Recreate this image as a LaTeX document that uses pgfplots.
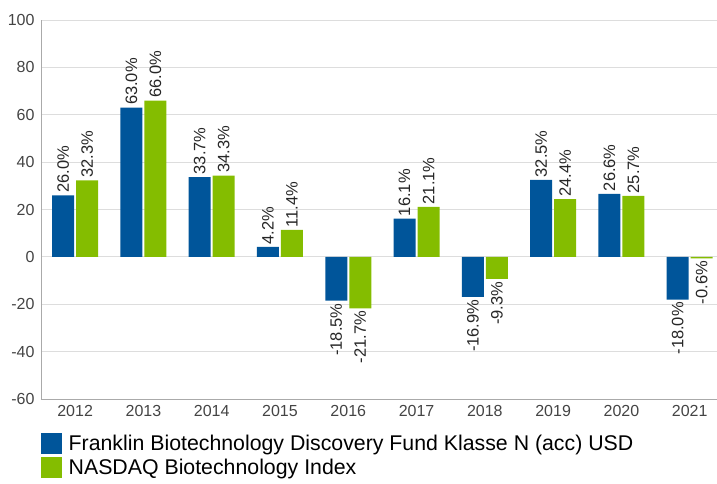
\documentclass[border=0pt]{standalone}
\usepackage{fontspec}
\setmainfont{Liberation Sans}
\usepackage{pgfplots}
\pgfplotsset{compat=1.18}
\definecolor{fundblue}{HTML}{00559A}
\definecolor{idxgreen}{HTML}{84BD00}
\definecolor{gridgray}{HTML}{DDDDDD}
\definecolor{axisgray}{HTML}{AAAAAA}
\definecolor{ticktext}{HTML}{444444}
\begin{document}
\begin{tikzpicture}
\begin{axis}[
  at={(0,0)}, anchor=south west,
  scale only axis, width=676pt, height=379pt,
  xmin=-0.5, xmax=9.4, ymin=-60, ymax=100,
  ytick={-60,-40,...,100},
  xtick={0,...,9},
  xticklabels={2012,2013,2014,2015,2016,2017,2018,2019,2020,2021},
  axis x line*=bottom, axis y line*=left,
  axis line style={axisgray, line width=0.8pt},
  ymajorgrids, grid style={gridgray, line width=0.8pt},
  major tick length=0pt,
  tick label style={font=\fontsize{16}{19}\selectfont, text=ticktext},
  yticklabel style={xshift=-3pt},
  xticklabel style={yshift=-3pt},
  /pgf/number format/assume math mode=true,
  ybar=2pt, bar width=22pt,
  visualization depends on={y \as \rawy},
  nodes near coords={\pgfmathprintnumber[fixed,fixed zerofill,precision=1,assume math mode=true]{\pgfplotspointmeta}\%},
  every node near coord/.append style={font=\fontsize{16.5}{19}\selectfont, text=black!85, rotate=90, inner sep=2.5pt},
  every node near coord/.append code={\ifdim\rawy pt<0pt \pgfkeysalso{anchor=east}\else\pgfkeysalso{anchor=west}\fi},
  legend style={at={(0,0)}, anchor=north west, yshift=-34pt, xshift=0pt, draw=none, fill=none,
    font=\fontsize{21.3}{25}\selectfont, inner sep=0pt, row sep=2.5pt,
    nodes={inner ysep=0.5pt, inner xsep=6.5pt}},
  legend cell align=left,
]
\addplot[fill=fundblue, draw=none,
  legend image code/.code={\fill[fundblue] (0pt,-10.5pt) rectangle (21pt,10.5pt);}]
  coordinates {(0,26.0) (1,63.0) (2,33.7) (3,4.2) (4,-18.5) (5,16.1) (6,-16.9) (7,32.5) (8,26.6) (9,-18.0)};
\addplot[fill=idxgreen, draw=none,
  legend image code/.code={\fill[idxgreen] (0pt,-10.5pt) rectangle (21pt,10.5pt);}]
  coordinates {(0,32.3) (1,66.0) (2,34.3) (3,11.4) (4,-21.7) (5,21.1) (6,-9.3) (7,24.4) (8,25.7) (9,-0.6)};
\legend{Franklin Biotechnology Discovery Fund Klasse N (acc) USD, NASDAQ Biotechnology Index}
\end{axis}
\pgfresetboundingbox
\path[use as bounding box] (-41pt,-85pt) rectangle (676pt,399pt);
\end{tikzpicture}
\end{document}
